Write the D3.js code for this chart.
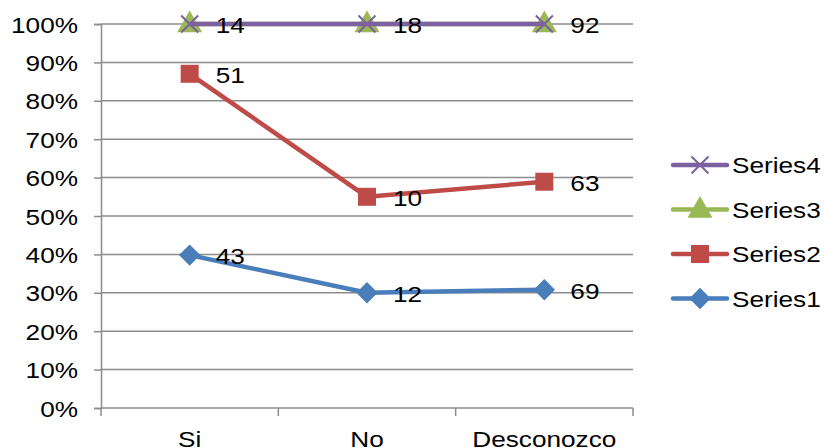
<!DOCTYPE html>
<html>
<head>
<meta charset="utf-8">
<script src="https://cdn.jsdelivr.net/npm/d3@7"></script>
<style>
  html, body { margin: 0; padding: 0; background: #fff; }
  svg { display: block; font-family: "Liberation Sans", Arial, sans-serif; }
</style>
</head>
<body>
<svg id="chart" width="824" height="448"></svg>
<script>
// Categories and raw counts per series (stacked to 100%)
const categories = ["Si", "No", "Desconozco"];
const series1 = [43, 12, 69];
const series2 = [51, 10, 63];
const series3 = [14, 18, 92];
const series4 = [0, 0, 0];
const seriesNames = ["Series1", "Series2", "Series3", "Series4"];
const yTicks = [0, 0.1, 0.2, 0.3, 0.4, 0.5, 0.6, 0.7, 0.8, 0.9, 1];

const colors = ["#4A7EBB", "#BE4B48", "#98B954", "#7D60A0"];
const allSeries = [series1, series2, series3, series4];

const svg = d3.select("#chart");
const plot = { left: 101, right: 633, top: 24, bottom: 408 };
const FONT = 22;
const WIDEN = 1.19;

// Widen text horizontally around its anchor point
function widen(sel) {
  sel.each(function () {
    const t = d3.select(this);
    const tx = +t.attr("x") || 0;
    const ty = +t.attr("y") || 0;
    t.attr("x", 0).attr("y", 0)
      .attr("transform", `translate(${tx},${ty}) scale(${WIDEN},1)`);
  });
}

const x = d3.scaleBand().domain(categories).range([plot.left, plot.right]);
const y = d3.scaleLinear().domain([0, 1]).range([plot.bottom, plot.top]);

// Cumulative percentage for each series at each category
const totals = categories.map((c, i) => d3.sum(allSeries, s => s[i]));
const cumulative = allSeries.map((s, k) =>
  categories.map((c, i) => ({
    cat: c,
    value: s[i],
    pct: d3.sum(allSeries.slice(0, k + 1), t => t[i]) / totals[i]
  }))
);

// Horizontal gridlines
svg.append("g")
  .selectAll("line")
  .data(yTicks.slice(1))
  .join("line")
  .attr("x1", plot.left).attr("x2", plot.right)
  .attr("y1", d => y(d)).attr("y2", d => y(d))
  .attr("stroke", "#8c8c8c").attr("stroke-width", 1.5);

// Y axis
const yAxis = svg.append("g")
  .attr("transform", `translate(${plot.left},0)`)
  .call(d3.axisLeft(y).tickValues(yTicks).tickFormat(d3.format(".0%")).tickSize(7).tickPadding(16));
yAxis.select(".domain").attr("stroke", "#8c8c8c").attr("stroke-width", 1.5);
yAxis.selectAll(".tick line").attr("stroke", "#8c8c8c").attr("stroke-width", 1.5);
yAxis.selectAll("text").attr("font-size", FONT).attr("fill", "#000")
  .attr("font-family", "'Liberation Sans', Arial, sans-serif")
  .attr("dy", null).attr("y", 8)
  .call(widen);

// X axis baseline, ticks at category boundaries
svg.append("line")
  .attr("x1", plot.left).attr("x2", plot.right)
  .attr("y1", plot.bottom).attr("y2", plot.bottom)
  .attr("stroke", "#8c8c8c").attr("stroke-width", 1.5);
const boundaries = categories.map(c => x(c)).concat([x(categories[categories.length - 1]) + x.bandwidth()]);
svg.append("g").selectAll("line")
  .data(boundaries)
  .join("line")
  .attr("x1", d => d).attr("x2", d => d)
  .attr("y1", plot.bottom).attr("y2", plot.bottom + 8)
  .attr("stroke", "#8c8c8c").attr("stroke-width", 1.5);
svg.append("g").selectAll("text")
  .data(categories)
  .join("text")
  .attr("x", d => x(d) + x.bandwidth() / 2)
  .attr("y", 447)
  .attr("text-anchor", "middle")
  .attr("font-size", FONT)
  .text(d => d)
  .call(widen);

const cx = d => x(d.cat) + x.bandwidth() / 2;
const line = d3.line().x(cx).y(d => y(d.pct));

// Marker shapes
function drawMarker(g, k, color, size) {
  if (k === 0) {
    g.append("path").attr("d", d3.symbol(d3.symbolDiamond2, size * size * 0.9)())
      .attr("fill", color);
  } else if (k === 1) {
    g.append("rect").attr("x", -size / 2).attr("y", -size / 2)
      .attr("width", size).attr("height", size).attr("fill", color);
  } else if (k === 2) {
    g.append("path").attr("d", d3.symbol(d3.symbolTriangle, size * size * 0.75)())
      .attr("transform", "translate(0,1)")
      .attr("fill", color);
  } else {
    const h = size / 2;
    g.append("path").attr("d", `M${-h},${-h}L${h},${h}M${-h},${h}L${h},${-h}`)
      .attr("stroke", color).attr("stroke-width", 2).attr("fill", "none");
  }
}

const markerSizes = [18, 18, 19, 17];

cumulative.forEach((pts, k) => {
  const g = svg.append("g");
  g.append("path").datum(pts)
    .attr("d", line)
    .attr("fill", "none")
    .attr("stroke", colors[k])
    .attr("stroke-width", 4.5)
    .attr("stroke-linejoin", "round");
  pts.forEach(p => {
    const m = g.append("g").attr("transform", `translate(${cx(p)},${y(p.pct)})`);
    drawMarker(m, k, colors[k], markerSizes[k]);
  });
});

// Value labels (series with non-zero counts)
cumulative.forEach((pts, k) => {
  svg.append("g").selectAll("text")
    .data(pts.filter(p => p.value !== 0))
    .join("text")
    .attr("x", p => cx(p) + 26)
    .attr("y", p => y(p.pct) + 9)
    .attr("font-size", FONT)
    .attr("fill", "#000")
    .text(p => p.value)
    .call(widen);
});

// Legend, top entry is the last series
const legend = svg.append("g");
seriesNames.slice().reverse().forEach((name, i) => {
  const k = seriesNames.length - 1 - i;
  const yy = 165 + i * 44.5;
  const row = legend.append("g").attr("transform", `translate(0,${yy})`);
  row.append("line").attr("x1", 673).attr("x2", 727)
    .attr("stroke", colors[k]).attr("stroke-width", 4.5).attr("stroke-linecap", "round");
  const m = row.append("g").attr("transform", "translate(700,0)");
  drawMarker(m, k, colors[k], markerSizes[k]);
  row.append("text").attr("x", 732).attr("y", 8)
    .attr("font-size", FONT).text(name)
    .call(widen);
});
</script>
</body>
</html>
